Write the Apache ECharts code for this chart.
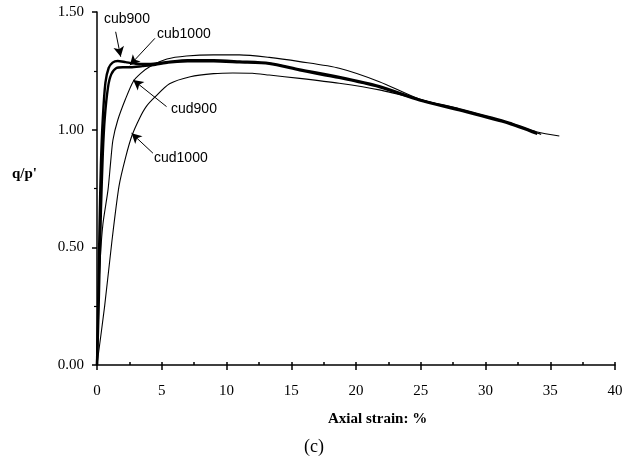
<!DOCTYPE html>
<html>
<head>
<meta charset="utf-8">
<script src="https://cdn.jsdelivr.net/npm/echarts@6/dist/echarts.min.js"></script>
<style>
html,body{margin:0;padding:0;background:#fff;}
#chart{width:633px;height:467px;}
</style>
</head>
<body>
<div id="chart"></div>
<script>
// ---- data (axial strain %, q/p') ----
const xTicks = [0, 5, 10, 15, 20, 25, 30, 35, 40];
const yTicks = [0.00, 0.50, 1.00, 1.50];

const strainCub900 = [0,0.05,0.1,0.15,0.2,0.3,0.45,0.65,0.9,1.2,1.6,2.2,3,4,5.5,7,9,11,13.3,15.65,18.7,21.8,24.9,28,31.8,33.9];
const qpCub900     = [0,0.15,0.3,0.45,0.6,0.85,1.05,1.2,1.262,1.285,1.292,1.287,1.28,1.279,1.288,1.295,1.295,1.29,1.283,1.256,1.224,1.185,1.128,1.086,1.03,0.988];

const strainCub1000 = [0,0.08,0.15,0.3,0.45,0.6,0.85,1.1,1.5,2,2.6,3.5,4.5,5.5,7,9,11,13.3,15.65,18.7,21.8,24.9,28,31.8,34];
const qpCub1000     = [0,0.15,0.3,0.65,0.9,1.05,1.18,1.235,1.262,1.265,1.265,1.27,1.276,1.285,1.29,1.291,1.286,1.28,1.252,1.22,1.181,1.125,1.082,1.026,0.982];

const strainCud900 = [0,0.1,0.25,0.46,0.85,1.05,1.23,1.6,2.2,2.8,3.4,4.1,5.4,6.9,9,11,13.3,15.65,18.7,21.8,24.9,28,31.8,34,35.7];
const qpCud900     = [0,0.25,0.45,0.6,0.744,0.86,0.956,1.04,1.13,1.205,1.24,1.268,1.3,1.313,1.318,1.318,1.307,1.289,1.261,1.204,1.13,1.088,1.03,0.99,0.973];

const strainCud1000 = [0,0.08,0.59,1.16,1.7,2.2,2.7,3.3,3.8,4.5,5.6,7.2,9,10.5,12,13.3,15.65,18.7,21.8,24.9,28,31.8,34.3];
const qpCud1000     = [0,0.035,0.25,0.53,0.76,0.88,0.975,1.05,1.098,1.14,1.195,1.225,1.238,1.241,1.24,1.232,1.218,1.197,1.169,1.128,1.084,1.028,0.98];

const seriesNames = ['cub900', 'cub1000', 'cud900', 'cud1000'];

// annotation arrows (from label to curve), in data units
const arrowFrom = [[1.44,1.416],[4.47,1.388],[5.37,1.098],[4.32,0.90]];
const arrowTo   = [[1.83,1.31],[2.54,1.274],[2.80,1.211],[2.67,0.985]];

function pairs(xs, ys){ return xs.map((x,i)=>[x, ys[i]]); }

const chart = echarts.init(document.getElementById('chart'), null, {renderer:'canvas'});
const serif = '"Liberation Serif","Times New Roman",serif';
const sans = '"Liberation Sans",Arial,sans-serif';

const lineData = [
  {d: pairs(strainCub900, qpCub900), w: 2.4},
  {d: pairs(strainCub1000, qpCub1000), w: 2.4},
  {d: pairs(strainCud900, qpCud900), w: 1.1},
  {d: pairs(strainCud1000, qpCud1000), w: 1.1}
];

const series = lineData.map((s,i)=>({
  name: seriesNames[i], type:'line', data:s.d, showSymbol:false, smooth:0.25,
  lineStyle:{color:'#000', width:s.w}, silent:true, animation:false,
  markLine: {
    silent:true, animation:false,
    symbol:['none','arrow'], symbolSize:[8,10],
    lineStyle:{color:'#000', width:1, type:'solid'},
    label:{show:false},
    data:[[{coord:arrowFrom[i]},{coord:arrowTo[i]}]]
  }
}));

chart.setOption({
  animation:false,
  grid:{left:97, right:18, top:12, bottom:102},
  xAxis:[{
    type:'value', min:0, max:40, interval:5,
    axisLine:{show:true, lineStyle:{color:'#000', width:1.5}},
    axisTick:{show:true, length:5, lineStyle:{color:'#000', width:1.5}},
    splitLine:{show:false},
    axisLabel:{color:'#000', fontFamily:serif, fontSize:15, margin:19}
  },{
    type:'value', min:0, max:40, interval:5, position:'bottom',
    axisLine:{show:false},
    axisTick:{show:true, inside:true, length:3, lineStyle:{color:'#000', width:1.5}},
    minorTick:{show:true, splitNumber:2, length:3, lineStyle:{color:'#000', width:1.5}},
    splitLine:{show:false}, axisLabel:{show:false}
  }],
  yAxis:{
    type:'value', min:0, max:1.5, interval:0.5,
    axisLine:{show:true, lineStyle:{color:'#000', width:1.5}},
    axisTick:{show:true, length:5, lineStyle:{color:'#000', width:1.5}},
    minorTick:{show:true, splitNumber:2, length:3, lineStyle:{color:'#000', width:1.2}},
    splitLine:{show:false},
    axisLabel:{color:'#000', fontFamily:serif, fontSize:15, margin:13, formatter:v=>v.toFixed(2)}
  },
  graphic:[
    {type:'text', left:12, top:167, style:{text:"q/p'", font:'bold 15px '+serif, fill:'#000'}},
    {type:'text', left:328, top:412, style:{text:'Axial strain: %', font:'bold 15px '+serif, fill:'#000'}},
    {type:'text', left:304, top:438, style:{text:'(c)', font:'18px '+serif, fill:'#000'}},
    {type:'text', left:104, top:12, style:{text:'cub900', font:'14px '+sans, fill:'#000'}},
    {type:'text', left:157, top:27, style:{text:'cub1000', font:'14px '+sans, fill:'#000'}},
    {type:'text', left:171, top:102, style:{text:'cud900', font:'14px '+sans, fill:'#000'}},
    {type:'text', left:154, top:151, style:{text:'cud1000', font:'14px '+sans, fill:'#000'}}
  ],
  series: series
});
</script>
</body>
</html>
